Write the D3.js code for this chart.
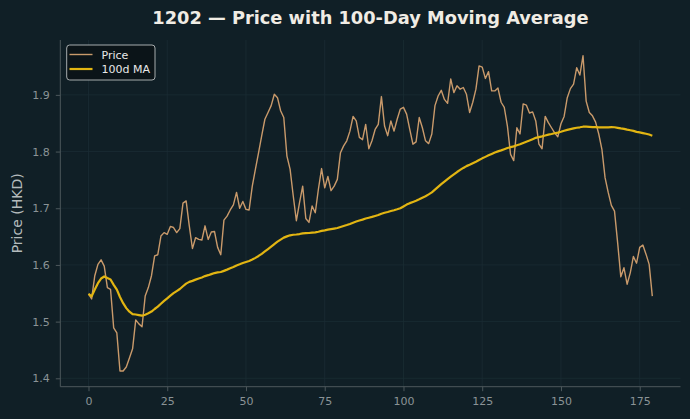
<!DOCTYPE html>
<html><head><meta charset="utf-8">
<script src="https://cdn.jsdelivr.net/npm/d3@7"></script>
<style>html,body{margin:0;padding:0;background:#101f26;}svg{display:block;}</style>
</head><body>
<svg id="chart" width="690" height="419"></svg>
<script>
const title = "1202 \u2014 Price with 100-Day Moving Average";
const yLabel = "Price (HKD)";
const seriesNames = ["Price", "100d MA"];
const xTicks = [0, 25, 50, 75, 100, 125, 150, 175];
const yTicks = [1.4, 1.5, 1.6, 1.7, 1.8, 1.9];
const maWindow = 100;
const price = [
  1.549,1.540,1.581,1.601,1.609,1.598,1.560,1.557,1.489,1.480,
  1.413,1.413,1.420,1.436,1.452,1.503,1.496,1.491,1.545,1.560,
  1.581,1.616,1.618,1.651,1.657,1.654,1.668,1.666,1.657,1.664,
  1.709,1.713,1.669,1.629,1.648,1.645,1.644,1.669,1.645,1.658,
  1.659,1.631,1.618,1.679,1.686,1.697,1.706,1.728,1.700,1.712,
  1.698,1.697,1.739,1.769,1.798,1.828,1.857,1.869,1.881,1.901,
  1.895,1.872,1.860,1.792,1.769,1.722,1.678,1.710,1.739,1.682,
  1.675,1.704,1.692,1.734,1.770,1.736,1.756,1.731,1.739,1.751,
  1.798,1.810,1.819,1.836,1.862,1.854,1.825,1.821,1.848,1.805,
  1.819,1.839,1.848,1.897,1.845,1.828,1.854,1.836,1.857,1.875,
  1.878,1.866,1.839,1.813,1.817,1.860,1.842,1.819,1.814,1.831,
  1.881,1.898,1.908,1.892,1.885,1.928,1.904,1.916,1.910,1.913,
  1.901,1.869,1.887,1.910,1.951,1.949,1.929,1.941,1.907,1.907,
  1.912,1.887,1.878,1.845,1.795,1.784,1.842,1.831,1.884,1.882,
  1.868,1.870,1.854,1.813,1.805,1.862,1.851,1.842,1.833,1.826,
  1.849,1.862,1.895,1.911,1.919,1.948,1.935,1.969,1.889,1.869,
  1.863,1.852,1.831,1.804,1.754,1.728,1.705,1.695,1.639,1.579,
  1.595,1.566,1.586,1.615,1.603,1.631,1.635,1.619,1.601,1.545
];
const days = price.map((_, i) => i);
// 100-day rolling mean (min periods 1) of the price series
const ma = price.map((_, i) => d3.mean(price.slice(Math.max(0, i - maWindow + 1), i + 1)));

const W = 690, H = 419;
const m = {left: 60.3, right: 690 - 680.5, top: 40, bottom: 419 - 386.7};
const svg = d3.select("#chart");
svg.append("rect").attr("width", W).attr("height", H).attr("fill", "#101f26");

const xMin = d3.min(days), xMax = d3.max(days), xPad = (xMax - xMin) * 0.05;
const yMin = d3.min(price.concat(ma)), yMax = d3.max(price.concat(ma)), yPad = (yMax - yMin) * 0.05;
const x = d3.scaleLinear().domain([xMin - xPad, xMax + xPad]).range([m.left, W - m.right]);
const y = d3.scaleLinear().domain([yMin - yPad, yMax + yPad]).range([H - m.bottom, m.top]);

// grid
const g = svg.append("g");
g.selectAll("line.gx").data(xTicks).join("line")
  .attr("x1", d => x(d)).attr("x2", d => x(d)).attr("y1", m.top).attr("y2", H - m.bottom)
  .attr("stroke", "#1b2c33").attr("stroke-width", 0.8);
g.selectAll("line.gy").data(yTicks).join("line")
  .attr("y1", d => y(d)).attr("y2", d => y(d)).attr("x1", m.left).attr("x2", W - m.right)
  .attr("stroke", "#1b2c33").attr("stroke-width", 0.8);

// axes
const axisColor = "#4d585c", tickText = "#8a9396";
const xAxis = svg.append("g").attr("transform", `translate(0,${H - m.bottom})`)
  .call(d3.axisBottom(x).tickValues(xTicks).tickSize(4.5).tickPadding(6).tickFormat(d3.format("d")));
const yAxis = svg.append("g").attr("transform", `translate(${m.left},0)`)
  .call(d3.axisLeft(y).tickValues(yTicks).tickSize(4.5).tickPadding(6).tickFormat(d3.format(".1f")));
[xAxis, yAxis].forEach(a => {
  a.select(".domain").attr("stroke", axisColor).attr("stroke-width", 1);
  a.selectAll(".tick line").attr("stroke", axisColor);
  a.selectAll(".tick text").attr("fill", tickText).attr("font-family", "DejaVu Sans").attr("font-size", 11);
});
xAxis.select(".domain").attr("d", `M${m.left},0H${W - m.right}`);
yAxis.select(".domain").attr("d", `M0,${m.top}V${H - m.bottom}`);

// lines
const line = d3.line().x((d, i) => x(days[i])).y(d => y(d));
svg.append("path").datum(price).attr("d", line).attr("fill", "none")
  .attr("stroke", "#c99a6b").attr("stroke-width", 1.4).attr("stroke-linejoin", "round");
svg.append("path").datum(ma).attr("d", line).attr("fill", "none")
  .attr("stroke", "#e2b512").attr("stroke-width", 2.2).attr("stroke-linejoin", "round");

// title & labels
svg.append("text").attr("x", (m.left + W - m.right) / 2).attr("y", 24).attr("text-anchor", "middle")
  .attr("font-family", "DejaVu Sans").attr("font-weight", "bold").attr("font-size", 17.8)
  .attr("fill", "#f0ece4").text(title);
svg.append("text").attr("transform", `translate(22,${(m.top + H - m.bottom) / 2}) rotate(-90)`)
  .attr("text-anchor", "middle").attr("font-family", "DejaVu Sans").attr("font-size", 14)
  .attr("fill", "#b4bbbd").text(yLabel);

// legend
const lg = svg.append("g");
lg.append("rect").attr("x", 66.7).attr("y", 45).attr("width", 88.3).attr("height", 35).attr("rx", 3)
  .attr("fill", "#0b1418").attr("stroke", "#b8bcbd").attr("stroke-width", 0.9);
const legColors = ["#c99a6b", "#e2b512"], legW = [1.4, 2.2];
seriesNames.forEach((n, i) => {
  const yy = 54.5 + i * 14.5;
  lg.append("line").attr("x1", 69.5).attr("x2", 92.5).attr("y1", yy).attr("y2", yy)
    .attr("stroke", legColors[i]).attr("stroke-width", legW[i]);
  lg.append("text").attr("x", 101.5).attr("y", yy + 4).attr("font-family", "DejaVu Sans").attr("font-size", 11)
    .attr("fill", "#e8e8e8").text(n);
});
</script>
</body></html>
